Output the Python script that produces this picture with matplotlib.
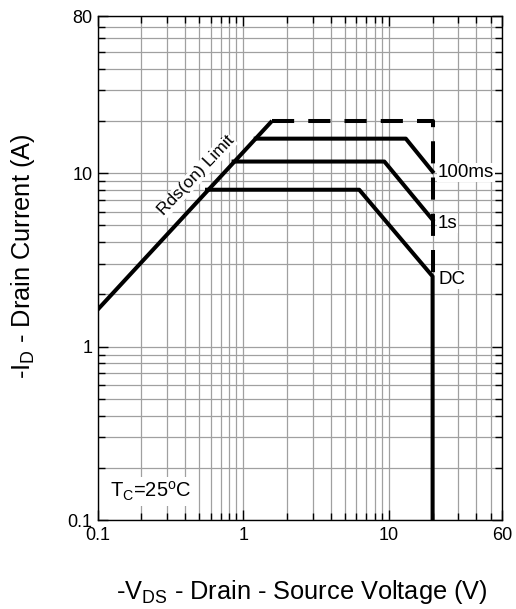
import numpy as np
import matplotlib.pyplot as plt
from matplotlib.ticker import FixedLocator, NullFormatter, LogLocator

plt.rcParams['font.family'] = ['Liberation Sans', 'DejaVu Sans']
plt.rcParams['mathtext.fontset'] = 'custom'
plt.rcParams['mathtext.rm'] = 'Liberation Sans'

# Safe operating area curves (V, A)
rds_v = [0.1, 1.58]
rds_i = [1.63, 20.0]

pulse10_v = [1.58, 20.0, 20.0]      # dashed envelope
pulse10_i = [20.0, 20.0, 2.54]

ms100_v = [1.22, 13.1, 20.0]
ms100_i = [15.8, 15.8, 10.2]

s1_v = [0.86, 9.33, 20.0]
s1_i = [11.66, 11.66, 5.38]

dc_v = [0.565, 6.27, 20.0, 20.0]
dc_i = [8.02, 8.02, 2.54, 0.1]

xticks = [0.1, 1, 10, 60]
yticks = [0.1, 1, 10, 80]

fig = plt.figure(figsize=(5.16, 6.09), dpi=100)
ax = fig.add_axes([0.189, 0.146, 0.784, 0.827])
ax.set_xscale('log')
ax.set_yscale('log')
ax.set_xlim(0.1, 60)
ax.set_ylim(0.1, 80)

lw = 2.9
ax.plot(rds_v, rds_i, color='black', lw=lw, solid_capstyle='butt')
ax.plot(pulse10_v, pulse10_i, color='black', lw=lw, ls=(0, (5.5, 3.5)))
ax.plot(ms100_v, ms100_i, color='black', lw=lw)
ax.plot(s1_v, s1_i, color='black', lw=lw)
ax.plot(dc_v, dc_i, color='black', lw=lw)

ax.xaxis.set_major_locator(FixedLocator(xticks))
ax.yaxis.set_major_locator(FixedLocator(yticks))
ax.set_xticklabels([str(t) for t in xticks])
ax.set_yticklabels([str(t) for t in yticks])
ax.xaxis.set_minor_locator(LogLocator(base=10, subs=np.arange(2, 10)))
ax.yaxis.set_minor_locator(LogLocator(base=10, subs=np.arange(2, 10)))
ax.xaxis.set_minor_formatter(NullFormatter())
ax.yaxis.set_minor_formatter(NullFormatter())
ax.grid(True, which='both', color='#a0a0a0', lw=0.9)
ax.set_axisbelow(True)
ax.tick_params(which='both', direction='in', top=True, right=True,
               labelsize=13, colors='black')
ax.tick_params(which='major', length=7, width=1)
ax.tick_params(which='minor', length=5, width=1)
ax.tick_params(axis='x', pad=5)
for s in ax.spines.values():
    s.set_linewidth(1)

box = dict(facecolor='white', edgecolor='none', pad=0.5)
ax.text(0.476, 9.66, 'Rds(on) Limit', rotation=46.5, fontsize=12.5,
        ha='center', va='center', bbox=box, zorder=3)
ax.text(21.8, 10.05, '100ms', fontsize=13.5, ha='left', va='center', bbox=box)
ax.text(21.8, 5.11, '1s', fontsize=13.5, ha='left', va='center', bbox=box)
ax.text(21.8, 2.43, 'DC', fontsize=13.5, ha='left', va='center', bbox=box)
ax.text(0.121, 0.146, r'T$_\mathregular{C}$=25$^\mathregular{o}$C', fontsize=14.5,
        ha='left', va='center', bbox=dict(facecolor='white', edgecolor='none', pad=2))

fig.text(302 / 516, 1 - 592 / 609, r'-V$_\mathregular{DS}$ - Drain - Source Voltage (V)',
         fontsize=18.3, ha='center', va='center')
fig.text(23 / 516, 1 - 256 / 609, r'-I$_\mathregular{D}$ - Drain Current (A)',
         fontsize=18.3, ha='center', va='center', rotation=90)

fig.savefig('out.png', dpi=100)
